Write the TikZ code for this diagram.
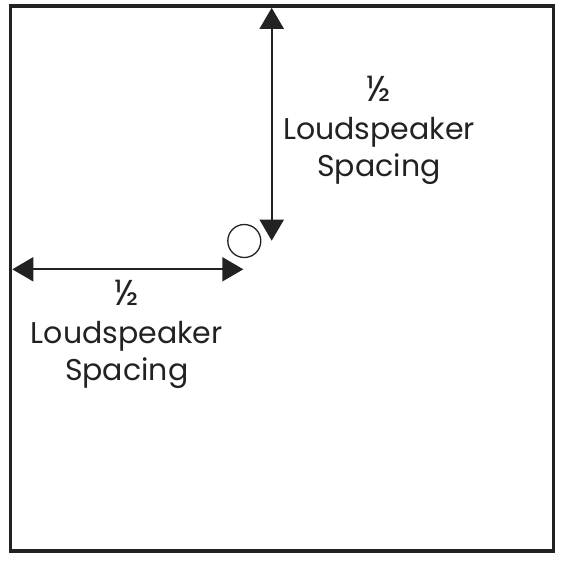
\documentclass[tikz,border=0pt]{standalone}
\usepackage{fontspec}
\setmainfont{Poppins}
\usetikzlibrary{arrows.meta}
\definecolor{ink}{HTML}{222222}
\tikzset{
  frame/.style={draw=ink, line width=3.5pt},
  dimarrow/.style={draw=ink, line width=2pt, {Triangle[length=21pt,width=24pt]}-{Triangle[length=21pt,width=24pt]}},
  speaker/.style={draw=ink, line width=1.3pt},
  lbl/.style={text=ink, font=\fontsize{30}{30}\selectfont, inner sep=0pt, anchor=base},
  halflbl/.style={lbl, font=\fontsize{36}{36}\selectfont}
}
\begin{document}
\begin{tikzpicture}[x=1pt,y=-1pt]
\useasboundingbox (0,0) rectangle (563,562);
\draw[frame] (10.3,6) rectangle (553.5,551);
\coordinate (vtop) at (271.7,7.8);
\coordinate (vbot) at (271.7,240.7);
\coordinate (hleft) at (12.3,269.3);
\coordinate (hright) at (243.3,269.3);
\draw[dimarrow] (vtop) -- (vbot);
\draw[dimarrow] (hleft) -- (hright);
\node[speaker, circle, minimum size=33pt, inner sep=0pt] (spk) at (244.3,241) {};
\node[halflbl] (uhalf) at (379,101) {½};
\node[lbl] (uloud) at (379,139) {Loudspeaker};
\node[lbl] (uspac) at (379,176) {Spacing};
\node[halflbl] (lhalf) at (126.7,305) {½};
\node[lbl] (lloud) at (126.7,343) {Loudspeaker};
\node[lbl] (lspac) at (126.7,380) {Spacing};
\end{tikzpicture}
\end{document}
